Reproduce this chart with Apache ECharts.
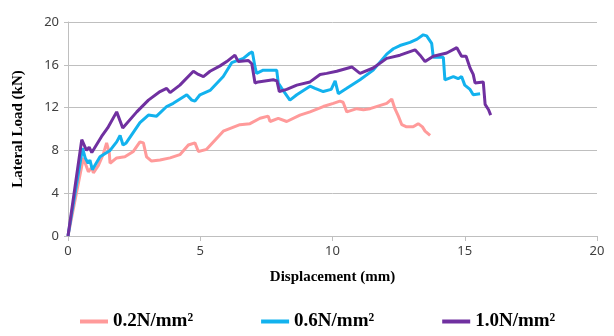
<!DOCTYPE html>
<html>
<head>
<meta charset="utf-8">
<script src="https://cdn.jsdelivr.net/npm/echarts@6/dist/echarts.min.js"></script>
<style>
  html, body { margin: 0; padding: 0; background: #fff; }
  #chart { width: 614px; height: 336px; }
</style>
</head>
<body>
<div id="chart"></div>
<script>
// displacement (mm), lateral load (kN)
var seriesNames = ['0.2N/mm²', '0.6N/mm²', '1.0N/mm²']
var xTicks = [0, 5, 10, 15, 20]
var yTicks = [0, 4, 8, 12, 16, 20]

var load02 = [
  [0, 0], [0.58, 7.3], [0.77, 6.0], [0.9, 6.4], [0.96, 5.9], [1.15, 6.6], [1.34, 7.7],
  [1.46, 8.7], [1.56, 7.8], [1.59, 6.8], [1.84, 7.3], [2.15, 7.4], [2.47, 7.9], [2.72, 8.8],
  [2.85, 8.7], [2.97, 7.4], [3.16, 7.0], [3.48, 7.1], [3.86, 7.3], [4.23, 7.6], [4.55, 8.5],
  [4.8, 8.7], [4.93, 7.9], [5.24, 8.1], [5.87, 9.8], [6.5, 10.4], [6.88, 10.5], [7.26, 11.0],
  [7.57, 11.2], [7.64, 10.7], [7.95, 11.0], [8.27, 10.7], [8.77, 11.3], [9.15, 11.6],
  [9.65, 12.1], [10.03, 12.4], [10.28, 12.6], [10.4, 12.5], [10.54, 11.6], [10.92, 11.9],
  [11.17, 11.8], [11.42, 11.9], [12.05, 12.4], [12.24, 12.8], [12.36, 11.9], [12.49, 11.2],
  [12.62, 10.4], [12.8, 10.2], [13.05, 10.2], [13.24, 10.5], [13.4, 10.2], [13.5, 9.8], [13.69, 9.4]
]

var load06 = [
  [0, 0], [0.55, 8.2], [0.65, 7.3], [0.76, 6.8], [0.83, 7.1], [0.92, 6.2], [1.21, 7.4],
  [1.59, 8.0], [1.84, 8.8], [1.97, 9.4], [2.08, 8.5], [2.2, 8.7], [2.72, 10.6], [3.04, 11.3],
  [3.35, 11.2], [3.73, 12.1], [3.98, 12.4], [4.49, 13.2], [4.68, 12.7], [4.8, 12.6], [4.99, 13.2],
  [5.37, 13.6], [5.87, 14.9], [6.19, 16.2], [6.63, 16.6], [6.88, 17.1], [6.97, 17.2], [7.07, 15.8],
  [7.13, 15.2], [7.38, 15.5], [7.89, 15.5], [7.95, 14.3], [8.08, 13.8], [8.39, 12.7], [8.65, 13.2],
  [9.15, 14.0], [9.34, 13.8], [9.65, 13.5], [9.95, 13.7], [10.1, 14.5], [10.22, 13.3], [10.54, 13.8],
  [11.04, 14.6], [11.54, 15.5], [12.05, 17.0], [12.3, 17.5], [12.55, 17.8], [12.93, 18.1],
  [13.2, 18.4], [13.43, 18.8], [13.56, 18.7], [13.75, 18.0], [13.81, 16.7], [14.19, 16.7],
  [14.25, 14.6], [14.57, 14.9], [14.75, 14.7], [14.88, 14.9], [15.0, 14.1], [15.2, 13.7],
  [15.32, 13.2], [15.58, 13.3]
]

var load10 = [
  [0, 0], [0.52, 9.0], [0.7, 8.0], [0.8, 8.3], [0.9, 7.8], [1.27, 9.3], [1.5, 10.1], [1.84, 11.6],
  [2.07, 10.1], [2.6, 11.6], [3.04, 12.7], [3.48, 13.5], [3.73, 13.8], [3.86, 13.4], [4.23, 14.1],
  [4.74, 15.4], [4.93, 15.1], [5.12, 14.9], [5.37, 15.4], [5.75, 15.9], [6.0, 16.3], [6.31, 16.9],
  [6.44, 16.3], [6.82, 16.4], [6.95, 16.1], [7.07, 14.3], [7.19, 14.4], [7.76, 14.6], [7.9, 14.5],
  [7.99, 13.5], [8.27, 13.7], [8.65, 14.1], [9.15, 14.4], [9.53, 15.1], [9.78, 15.2], [10.16, 15.4],
  [10.73, 15.8], [11.04, 15.2], [11.54, 15.7], [12.05, 16.6], [12.55, 16.9], [13.12, 17.4],
  [13.31, 16.9], [13.5, 16.3], [13.81, 16.8], [14.32, 17.1], [14.7, 17.6], [14.88, 16.8],
  [15.05, 16.8], [15.2, 15.7], [15.32, 15.1], [15.39, 14.3], [15.7, 14.4], [15.77, 12.3],
  [15.9, 11.8], [15.98, 11.3]
]

var colors = ['#ff9a9a', '#12b2ee', '#7030a0']

var chart = echarts.init(document.getElementById('chart'))

function makeSeries (name, data, color) {
  return {
    name: name,
    type: 'line',
    data: data,
    showSymbol: false,
    symbol: 'none',
    lineStyle: { width: 3, color: color },
    itemStyle: { color: color },
    animation: false
  }
}

chart.setOption({
  animation: false,
  grid: { left: 68, right: 17, top: 22, bottom: 100 },
  legend: {
    data: seriesNames,
    bottom: 0,
    left: 75,
    itemGap: 68,
    itemWidth: 28,
    itemHeight: 4,
    icon: 'rect',
    textStyle: {
      fontFamily: 'Liberation Serif',
      fontWeight: 'bold',
      fontSize: 19,
      color: '#000'
    }
  },
  xAxis: {
    type: 'value',
    min: 0,
    max: 20,
    interval: 5,
    name: 'Displacement (mm)',
    nameLocation: 'middle',
    nameGap: 34,
    nameTextStyle: {
      fontFamily: 'Liberation Serif',
      fontWeight: 'bold',
      fontSize: 15,
      color: '#000'
    },
    axisLine: { lineStyle: { color: '#bfbfbf' } },
    axisTick: { show: true, length: 5, lineStyle: { color: '#bfbfbf' } },
    axisLabel: {
      margin: 9,
      fontSize: 13,
      color: '#404040',
      fontFamily: 'Noto Sans',
      formatter: function (v) { return xTicks.indexOf(v) >= 0 ? String(v) : '' }
    },
    splitLine: { show: false }
  },
  yAxis: {
    type: 'value',
    min: 0,
    max: 20,
    interval: 4,
    name: 'Lateral Load (kN)',
    nameLocation: 'middle',
    nameGap: 42,
    nameTextStyle: {
      fontFamily: 'Liberation Serif',
      fontWeight: 'bold',
      fontSize: 15,
      color: '#000'
    },
    axisLine: { show: true, lineStyle: { color: '#bfbfbf' } },
    axisTick: { show: true, length: 4, lineStyle: { color: '#bfbfbf' } },
    axisLabel: {
      margin: 9,
      fontSize: 13,
      color: '#404040',
      fontFamily: 'Noto Sans',
      formatter: function (v) { return yTicks.indexOf(v) >= 0 ? String(v) : '' }
    },
    splitLine: { lineStyle: { color: '#bfbfbf', width: 1 } }
  },
  series: [
    makeSeries(seriesNames[0], load02, colors[0]),
    makeSeries(seriesNames[1], load06, colors[1]),
    makeSeries(seriesNames[2], load10, colors[2])
  ]
})
</script>
</body>
</html>
